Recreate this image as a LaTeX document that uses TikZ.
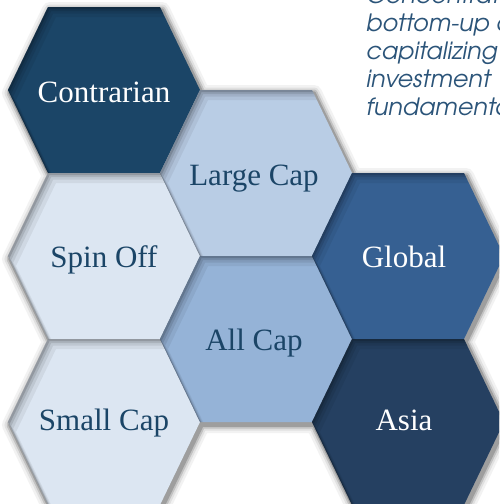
\documentclass[tikz,border=0pt]{standalone}
\usepackage{fontspec}
\setmainfont{Liberation Serif}
\newfontfamily\descfont{TeX Gyre Adventor}
\definecolor{cContr}{HTML}{1B4567}
\definecolor{cLarge}{HTML}{B9CDE5}
\definecolor{cLight}{HTML}{DCE6F2}
\definecolor{cAll}{HTML}{95B3D7}
\definecolor{cGlobal}{HTML}{366092}
\definecolor{cAsia}{HTML}{254061}
\definecolor{cText}{HTML}{1B4567}
\definecolor{cDesc}{HTML}{2B5479}
\begin{document}
\begin{tikzpicture}[x=1pt,y=-1pt,
  hexp/.style 2 args={insert path={(#1-96,#2) -- (#1-56,#2-83) -- (#1+56,#2-83) -- (#1+96,#2) -- (#1+56,#2+83) -- (#1-56,#2+83) -- cycle}},
  hexlabel/.style={inner sep=0pt, anchor=base, font=\fontsize{31}{36}\selectfont},
  lighttext/.style={hexlabel, text=cText},
  darktext/.style={hexlabel, text=white},
  desc/.style={inner sep=0pt, anchor=base west, text=cDesc, font=\descfont\itshape\fontsize{23.8}{28}\selectfont}]
\useasboundingbox (0,0) rectangle (499,504);
\fill[white] (0,0) rectangle (499,504);
\clip (0,0) rectangle (499,504);
\def\centers{104/90,104/256,104/422,256/173,256/339,408/256,408/422}
% outer shadows
\foreach \w/\shd in {16/5,11/12,7/24,3.5/38} {
  \foreach \x/\y in \centers {
    \path[draw=black!\shd, fill=black!\shd, line width=\w pt, line join=round, hexp={\x+2}{\y+3}];
  }
}
% hexagon fills
\path[fill=cContr, hexp={104}{90}];
\path[fill=cLight, hexp={104}{256}];
\path[fill=cLight, hexp={104}{422}];
\path[fill=cLarge, hexp={256}{173}];
\path[fill=cAll, hexp={256}{339}];
\path[fill=cGlobal, hexp={408}{256}];
\path[fill=cAsia, hexp={408}{422}];
% inner shadows
\foreach \x/\y in \centers {
  \begin{scope}
    \clip[hexp={\x}{\y}];
    \foreach \d/\o in {10/0.06,6.5/0.08,4/0.10,2/0.14} {
      \fill[black, opacity=\o, even odd rule, insert path={(\x-130,\y-130) rectangle (\x+130,\y+130)}, hexp={\x+\d*0.8}{\y+\d}];
    }
  \end{scope}
}
% labels
\node[darktext] (contrarian) at (104,102) {Contrarian};
\node[lighttext] (largecap) at (254,185) {Large Cap};
\node[lighttext] (spinoff) at (104,267) {Spin Off};
\node[lighttext] (allcap) at (254,350) {All Cap};
\node[darktext] (global) at (404,267) {Global};
\node[lighttext] (smallcap) at (104,430) {Small Cap};
\node[darktext] (asia) at (404,430) {Asia};
% description text (clipped at the right edge, as in the reference)
\node[desc] (d1) at (366,3) {Concentrated,};
\node[desc] (d2) at (366,31) {bottom-up approach};
\node[desc] (d3) at (366,59) {capitalizing on};
\node[desc] (d4) at (366,87) {investment};
\node[desc] (d5) at (366,115) {fundamentals};
\end{tikzpicture}
\end{document}
